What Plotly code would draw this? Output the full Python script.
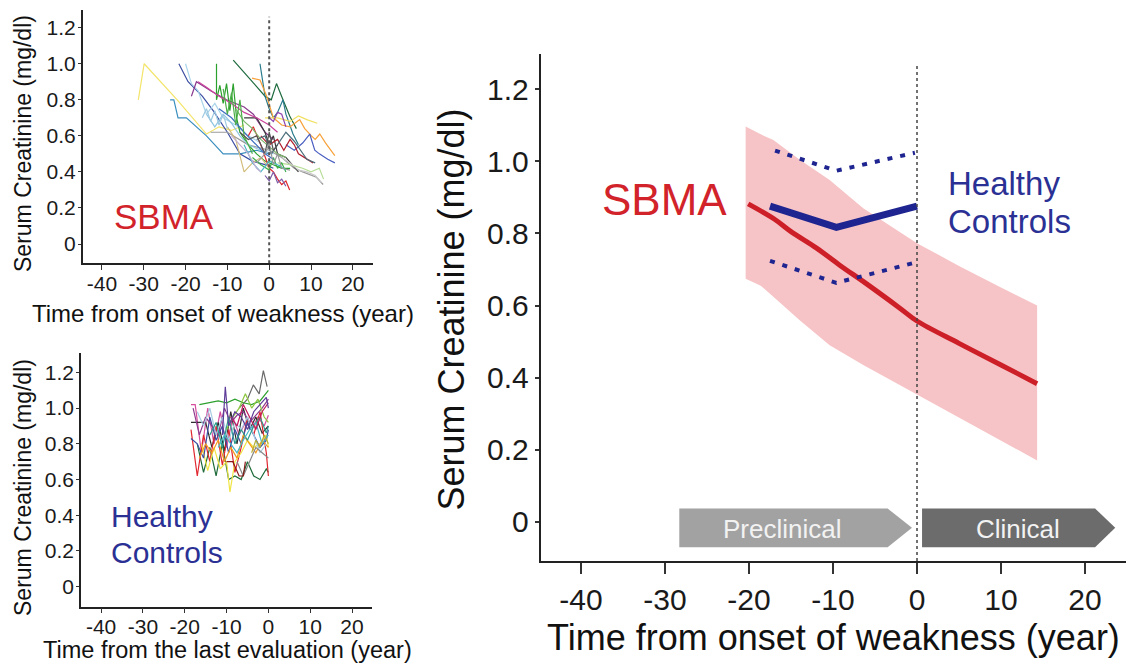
import plotly.graph_objects as go

FONT = "Arial, 'Liberation Sans', Helvetica, sans-serif"
RED = "#cd1f28"
PINK = "#f6c4c6"
NAVY = "#1f2590"
TXT_BLUE = "#2b3194"

# ---------------- main panel data ----------------
SBMA_X = [-20.1, -17.0, -15.0, -12.0, -9.2, -6.0, -2.0, 0.0, 5.0, 10.0, 14.3]
SBMA_MEAN = [0.882, 0.840, 0.805, 0.760, 0.712, 0.660, 0.592, 0.557, 0.495, 0.435, 0.383]

BAND_X = [-20.4, -18.6, -17.1, -14.0, -10.4, -6.4, 0.0, 5.0, 10.0, 14.3]
BAND_UP = [1.097, 1.075, 1.059, 1.005, 0.948, 0.870, 0.773, 0.710, 0.650, 0.600]
BAND_LO = [0.674, 0.655, 0.624, 0.560, 0.490, 0.435, 0.352, 0.288, 0.225, 0.170]

HC_X = [-17.5, -9.6, 0.0]
HC_MEAN = [0.876, 0.817, 0.876]
HC_UP_X = [-16.9, -9.6, -0.25]
HC_UP = [1.030, 0.974, 1.024]
HC_LO_X = [-17.5, -9.6, -0.25]
HC_LO = [0.724, 0.663, 0.719]

X_TICKS = [-40, -30, -20, -10, 0, 10, 20]
X_TICK_TEXT = ["-40", "-30", "-20", "-10", "0", "10", "20"]
Y_TICKS = [0, 0.2, 0.4, 0.6, 0.8, 1.0, 1.2]
Y_TICK_TEXT = ["0", "0.2", "0.4", "0.6", "0.8", "1.0", "1.2"]

# stage arrows (x start, body end, tip) and their y extent
PRE_ARROW = [-28.3, -3.5, -0.6]
CLIN_ARROW = [0.6, 21.2, 23.6]
ARROW_Y = [-0.071, 0.037]

# ---------------- individual SBMA trajectories (top-left) ----------------
SBMA_IND_X = [
    [-31.3, -29.9, -22, -15, -12, -9, -6],
    [-23.7, -22.8, -21.8, -19.8, -15, -11, -7, -3, 0],
    [-21.6, -19.4, -16, -13.4, -10, -7, -4, -1, 1],
    [-20, -18.6, -17, -15, -13, -11, -8, -5, -2],
    [-18.6, -17.4, -14, -10.2, -6, -3.8, -1, 1],
    [-12.6, -12.6, -11.8, -11, -10.2, -9.4, -8.6, -7.8, -7, -5, -3, -1, 1, 3, 5],
    [-8.6, -6, -3.8, -1, 0.5, 1.75, 3.3, 4.9, 6.5],
    [-2.2, -1.5, -1, 0, 1, 2, 3.3, 4, 5.7, 7],
    [-4.1, -2.2, -0.6, 1, 3, 5, 7.3, 8.5, 10.1, 11, 12.1, 13.5, 15.7],
    [4, 6, 8, 9.7, 10.9, 12, 14, 15.7],
    [-5, -3.8, -2, -1, 0, 1, 2, 3, 4, 4.9],
    [-14, -10, -5, 0, 3, 6, 8, 11.3, 12.9],
    [-6, -3, -1, 0, 1, 2, 4, 7],
    [2, 5, 8, 10, 12, 13],
    [-10, -8, -6, -4, -2, 0],
    [-17, -15, -12, -9, -6, -3, 0, 2],
    [-15, -13, -11, -9, -7, -5, -2, 1],
    [-2, 0, 2, 3.5, 5, 6, 7, 8.5, 10.5],
    [-1, 2, 5, 7, 9, 11.5],
    [-8, -6, -4, -2, 0, 2, 4],
    [-3, -1, 0.5, 2, 4, 6, 9, 11],
    [3, 5, 7, 9, 11, 12.5],
    [-4, -2, 0, 1, 2, 3, 4],
    [-1, 0, 1, 2, 3, 4],
    [-12, -9, -6, -3, -1, 1],
    [-6, -4, -2, 0, 2, 4],
    [-16, -15, -14, -13, -12, -11, -10],
    [-11, -10, -9, -8, -7, -6, -5, -4],
    [-7, -5, -3, -1, 0, 1, 2],
    [-3, -1, 0, 1, 2, 3, 5],
    [0, 1, 2, 3, 4],
    [-9, -7, -5, -3, -2],
]
SBMA_IND_Y = [
    [0.80, 1.00, 0.80, 0.61, 0.65, 0.63, 0.66],
    [0.80, 0.80, 0.70, 0.70, 0.60, 0.50, 0.50, 0.52, 0.50],
    [1.00, 0.90, 0.82, 0.74, 0.62, 0.50, 0.46, 0.44, 0.42],
    [1.00, 0.89, 0.85, 0.72, 0.78, 0.70, 0.66, 0.60, 0.56],
    [0.82, 0.90, 0.85, 0.80, 0.76, 0.72, 0.62, 0.58],
    [1.00, 0.80, 0.88, 0.78, 0.89, 0.74, 0.89, 0.70, 0.62, 0.55, 0.50, 0.46, 0.44, 0.42, 0.42],
    [1.02, 0.95, 0.89, 0.82, 0.80, 0.89, 0.80, 0.71, 0.64],
    [1.00, 0.88, 0.82, 0.75, 0.70, 0.73, 0.80, 0.72, 0.61, 0.55],
    [0.92, 0.91, 0.82, 0.70, 0.66, 0.65, 0.69, 0.64, 0.60, 0.58, 0.61, 0.56, 0.49],
    [0.55, 0.52, 0.56, 0.61, 0.52, 0.50, 0.47, 0.45],
    [0.60, 0.65, 0.55, 0.48, 0.42, 0.40, 0.36, 0.33, 0.35, 0.30],
    [0.62, 0.62, 0.55, 0.52, 0.48, 0.42, 0.40, 0.37, 0.33],
    [0.70, 0.70, 0.62, 0.55, 0.60, 0.50, 0.48, 0.40],
    [0.45, 0.44, 0.42, 0.40, 0.42, 0.36],
    [0.65, 0.58, 0.40, 0.45, 0.48, 0.42],
    [0.90, 0.87, 0.82, 0.78, 0.73, 0.70, 0.66, 0.62],
    [0.72, 0.65, 0.72, 0.67, 0.60, 0.55, 0.52, 0.50],
    [0.60, 0.55, 0.58, 0.52, 0.58, 0.55, 0.50, 0.48, 0.45],
    [0.70, 0.70, 0.68, 0.71, 0.69, 0.67],
    [0.75, 0.68, 0.64, 0.58, 0.54, 0.50, 0.48],
    [0.58, 0.60, 0.50, 0.55, 0.62, 0.57, 0.47, 0.45],
    [0.48, 0.45, 0.41, 0.40, 0.38, 0.34],
    [0.48, 0.44, 0.41, 0.48, 0.42, 0.45, 0.40],
    [0.38, 0.35, 0.40, 0.34, 0.36, 0.32],
    [0.75, 0.70, 0.62, 0.55, 0.50, 0.47],
    [0.55, 0.45, 0.40, 0.46, 0.44, 0.41],
    [0.70, 0.75, 0.68, 0.74, 0.66, 0.72, 0.64],
    [0.86, 0.72, 0.84, 0.66, 0.80, 0.60, 0.55, 0.50],
    [0.62, 0.58, 0.60, 0.50, 0.62, 0.52, 0.55],
    [0.45, 0.50, 0.56, 0.44, 0.50, 0.42, 0.41],
    [0.70, 0.68, 0.73, 0.72, 0.65],
    [0.60, 0.55, 0.50, 0.42, 0.40],
]
SBMA_IND_COLORS = [
    "#f3e46a", "#3b8fbf", "#3c4ea3", "#a9d4ea", "#8b3a8f", "#2ca02c",
    "#1f6b3f", "#2a7b8c", "#f7a13a", "#4a5fc1", "#e0262e", "#9a9a9a",
    "#3a3a3a", "#b7dd96", "#d2bd7a", "#c9439a", "#8fc5e0", "#b22030",
    "#f0e060", "#7bb86a", "#4c6e7a", "#c8c8c8", "#3fae49", "#7b5ca8",
    "#3f6fc0", "#4fb6c6", "#9ecae1", "#4daf4a", "#555555", "#999999",
    "#8e44ad", "#c5b0d5",
]

# ---------------- individual control trajectories (bottom-left) ----------------
HC_IND_X = [
    [-18.5, -17.5, -16, -14.5, -13, -11.5, -10, -8.5, -7, -5.5, -4, -2.5, -1, 0],
    [-18.5, -15, -13.5, -12, -10.5, -9, -7.5, -6, -4.5, -3, -1.5, 0],
    [-7, -5, -3.6, -2.2, -1.2, -0.3],
    [-16.5, -14, -12, -10, -8, -6, -4, -2, 0],
    [-17, -15.5, -14, -12.5, -11, -9.5, -8, -6.5, -5, -3.5, -2, -0.5, 0],
    [-18.5, -17, -15.5, -14, -12.5, -11, -9.5, -8, -6.5, -5, -3.5, -2, -0.5, 0],
    [-16, -14.5, -13, -11.5, -10, -9.2, -8, -6.5, -5, -3.5, -2, -0.5, 0],
    [-18.5, -17, -15.5, -14, -12.5, -11, -9.5, -8, -6.5, -5, -3.5, -2, -0.5, 0],
    [-18, -16.5, -15, -13.5, -12, -10.5, -9, -7.5, -6, -4.5, -3, -1.5, 0],
    [-16.5, -15, -13.5, -12, -10.5, -9, -7.5, -6, -4.5, -3, -1.5, 0],
    [-17, -15.5, -14, -12.5, -11, -9.5, -8, -6.5, -5, -3.5, -2, -0.5],
    [-14, -12.5, -11, -9.5, -8, -6.5, -5, -3.5, -2, -0.5, 0],
    [-12, -10.5, -9, -7.5, -6, -4.5, -3, -1.5, 0],
    [-10, -8.5, -7, -5.5, -4, -2.5, -1, 0],
    [-9, -7.5, -6, -4.5, -3, -1.5, 0],
    [-11, -10.3, -9.5, -8, -6.5, -5, -3.5, -2, -0.5, 0],
    [-7.5, -6, -4.5, -3, -1.5, 0],
    [-4, -3, -2, -1, 0],
    [-10, -8.5, -7, -6, -5.5],
]
HC_IND_Y = [
    [1.02, 1.02, 0.75, 1.00, 0.80, 0.98, 0.78, 0.95, 0.85, 0.92, 0.88, 0.95, 0.90, 0.96],
    [0.92, 0.92, 0.78, 0.92, 0.76, 0.98, 0.80, 1.00, 0.88, 0.95, 0.86, 0.90],
    [1.00, 1.05, 1.13, 1.08, 1.21, 1.12],
    [1.02, 1.03, 1.04, 1.03, 1.05, 1.03, 1.02, 1.04, 1.10],
    [0.80, 0.64, 0.78, 0.62, 0.80, 0.60, 0.62, 0.60, 0.70, 0.62, 0.60, 0.66, 0.64],
    [0.88, 0.62, 0.85, 0.70, 0.90, 0.68, 0.88, 0.64, 0.78, 0.95, 0.85, 0.98, 0.75, 0.62],
    [0.80, 0.65, 0.78, 0.66, 0.70, 0.53, 0.70, 0.75, 0.82, 0.78, 0.80, 0.85, 0.78],
    [0.83, 0.80, 0.72, 0.95, 0.82, 0.90, 0.75, 0.88, 0.80, 0.92, 0.85, 0.78, 0.82, 0.88],
    [1.00, 0.85, 0.95, 0.90, 0.85, 1.00, 0.92, 0.96, 0.98, 0.92, 0.96, 1.00, 1.05],
    [0.72, 0.80, 0.75, 0.82, 0.70, 0.78, 0.72, 0.85, 0.80, 0.75, 0.82, 0.78],
    [0.98, 0.90, 1.00, 0.85, 0.95, 0.82, 0.92, 0.88, 0.95, 0.85, 0.75, 0.80],
    [0.85, 0.92, 0.78, 0.95, 0.80, 0.88, 0.82, 0.90, 0.95, 0.86, 0.90],
    [0.78, 0.85, 0.80, 0.75, 0.82, 0.88, 0.92, 0.80, 0.85],
    [0.88, 0.95, 1.00, 1.08, 1.00, 1.05, 0.95, 0.92],
    [0.95, 0.90, 1.02, 0.95, 0.88, 0.98, 1.03],
    [0.85, 1.12, 0.90, 0.98, 0.95, 0.88, 0.98, 1.02, 1.06, 1.00],
    [0.70, 0.62, 0.70, 0.78, 0.75, 0.72],
    [0.75, 0.82, 0.78, 0.85, 0.80],
    [0.70, 0.70, 0.62, 0.62, 0.70],
]
HC_IND_COLORS = [
    "#d54d9c", "#2f2f2f", "#6a6a6a", "#2ca02c", "#1e6b3a", "#e0262e",
    "#f0e442", "#3c4ea3", "#8e3c8e", "#f39c1f", "#a6cee3", "#2a9d8f",
    "#45b7c8", "#8cc63f", "#c2185b", "#5e3c99", "#888888", "#b5b03b",
    "#8b1a1a",
]

# page geometry: the html body adds an 8 px margin around the figure
OFF = 8
W, H = 1134 - OFF, 666 - OFF


def px_x(p):
    return (p - OFF) / W


def px_y(p):
    return 1 - (p - OFF) / H


fig = go.Figure()

for xs, ys, c in zip(SBMA_IND_X, SBMA_IND_Y, SBMA_IND_COLORS):
    fig.add_trace(go.Scatter(x=xs, y=ys, mode="lines", line=dict(color=c, width=1.2),
                             xaxis="x", yaxis="y", showlegend=False, hoverinfo="skip"))
for xs, ys, c in zip(HC_IND_X, HC_IND_Y, HC_IND_COLORS):
    fig.add_trace(go.Scatter(x=xs, y=ys, mode="lines", line=dict(color=c, width=1.2),
                             xaxis="x2", yaxis="y2", showlegend=False, hoverinfo="skip"))

fig.add_trace(go.Scatter(x=BAND_X + BAND_X[::-1], y=BAND_UP + BAND_LO[::-1],
                         fill="toself", fillcolor=PINK, line=dict(width=0),
                         mode="lines", xaxis="x3", yaxis="y3", showlegend=False,
                         hoverinfo="skip"))
fig.add_trace(go.Scatter(x=SBMA_X, y=SBMA_MEAN, mode="lines",
                         line=dict(color=RED, width=5, shape="spline"),
                         xaxis="x3", yaxis="y3", showlegend=False))
fig.add_trace(go.Scatter(x=HC_UP_X, y=HC_UP, mode="lines",
                         line=dict(color=NAVY, width=4, dash="5px,8px"),
                         xaxis="x3", yaxis="y3", showlegend=False))
fig.add_trace(go.Scatter(x=HC_LO_X, y=HC_LO, mode="lines",
                         line=dict(color=NAVY, width=4, dash="5px,8px"),
                         xaxis="x3", yaxis="y3", showlegend=False))
fig.add_trace(go.Scatter(x=HC_X, y=HC_MEAN, mode="lines",
                         line=dict(color=NAVY, width=7),
                         xaxis="x3", yaxis="y3", showlegend=False))


def xax(domain, rng, fs, tl, lw, standoff, anchor):
    return dict(domain=domain, range=rng, tickvals=X_TICKS, ticktext=X_TICK_TEXT,
                ticks="outside", ticklen=tl, tickwidth=lw * 0.8, tickcolor="#333",
                showline=True, linecolor="#222", linewidth=lw, showgrid=False,
                zeroline=False, tickfont=dict(family=FONT, size=fs, color="#1a1a1a"),
                ticklabelstandoff=standoff, anchor=anchor, automargin=False,
                fixedrange=True)


def yax(domain, rng, fs, tl, lw, standoff, anchor):
    return dict(domain=domain, range=rng, tickvals=Y_TICKS, ticktext=Y_TICK_TEXT,
                ticks="outside", ticklen=tl, tickwidth=lw * 0.8, tickcolor="#333",
                showline=True, linecolor="#222", linewidth=lw, showgrid=False,
                zeroline=False, tickfont=dict(family=FONT, size=fs, color="#1a1a1a"),
                ticklabelstandoff=standoff, anchor=anchor, automargin=False,
                fixedrange=True)


fig.update_layout(
    width=W, height=H, margin=dict(l=0, r=0, t=0, b=0, autoexpand=False),
    paper_bgcolor="white", plot_bgcolor="white", showlegend=False,
    xaxis=xax([px_x(82.7), px_x(373.3)], [-44.6, 24.9], 21, 5, 1.5, -4, "y"),
    yaxis=yax([px_y(263.3), px_y(10)], [-0.107, 1.298], 21, 3, 1.5, -2, "x"),
    xaxis2=xax([px_x(81), px_x(371.7)], [-44.8, 24.7], 21, 5, 1.5, -5, "y2"),
    yaxis2=yax([px_y(606.7), px_y(353.3)], [-0.112, 1.307], 21, 3, 1.5, -2, "x2"),
    xaxis3=xax([px_x(540.7), px_x(1127)], [-44.8, 25.0], 30, 11, 2, 0, "y3"),
    yaxis3=yax([px_y(561), px_y(54)], [-0.109, 1.298], 30, 4, 2, 0, "x3"),
)

shapes = [
    dict(type="line", xref="x", yref="y", x0=0, x1=0, y0=-0.107, y1=1.26,
         line=dict(color="#555", width=2, dash="dot")),
    dict(type="line", xref="x3", yref="y3", x0=0, x1=0, y0=-0.109, y1=1.268,
         line=dict(color="#444", width=1.5, dash="dot")),
]
ymid = (ARROW_Y[0] + ARROW_Y[1]) / 2
for (x0, xb, xt), col in [(PRE_ARROW, "#a2a2a2"), (CLIN_ARROW, "#6c6c6c")]:
    path = (f"M {x0},{ARROW_Y[0]} L {xb},{ARROW_Y[0]} L {xt},{ymid} "
            f"L {xb},{ARROW_Y[1]} L {x0},{ARROW_Y[1]} Z")
    shapes.append(dict(type="path", xref="x3", yref="y3", path=path,
                       fillcolor=col, line=dict(width=0), layer="below"))
fig.update_layout(shapes=shapes)

ann = [
    dict(text="Time from onset of weakness (year)", xref="paper", yref="paper",
         x=px_x(833), y=px_y(637), font=dict(size=36, family=FONT, color="#111")),
    dict(text="Serum Creatinine (mg/dl)", xref="paper", yref="paper",
         x=px_x(452), y=px_y(309.6), textangle=-90,
         font=dict(size=36, family=FONT, color="#111")),
    dict(text="Time from onset of weakness (year)", xref="paper", yref="paper",
         x=px_x(222.5), y=px_y(313), font=dict(size=24, family=FONT, color="#111")),
    dict(text="Serum Creatinine (mg/dl)", xref="paper", yref="paper",
         x=px_x(23), y=px_y(144), textangle=-90,
         font=dict(size=23, family=FONT, color="#111")),
    dict(text="Time from the last evaluation (year)", xref="paper", yref="paper",
         x=px_x(227), y=px_y(650), font=dict(size=23.5, family=FONT, color="#111")),
    dict(text="Serum Creatinine (mg/dl)", xref="paper", yref="paper",
         x=px_x(23), y=px_y(488), textangle=-90,
         font=dict(size=23, family=FONT, color="#111")),
    dict(text="SBMA", xref="x3", yref="y3", x=-30.1, y=0.894,
         font=dict(size=44, family=FONT, color="#d2232a")),
    dict(text="Healthy", xref="x3", yref="y3", x=3.48, y=0.938, xanchor="left",
         font=dict(size=33, family=FONT, color=TXT_BLUE)),
    dict(text="Controls", xref="x3", yref="y3", x=3.48, y=0.833, xanchor="left",
         font=dict(size=33, family=FONT, color=TXT_BLUE)),
    dict(text="SBMA", xref="x", yref="y", x=-25.2, y=0.155,
         font=dict(size=35, family=FONT, color="#d2232a")),
    dict(text="Healthy", xref="x2", yref="y2", x=-38.1, y=0.392, xanchor="left",
         font=dict(size=30, family=FONT, color=TXT_BLUE)),
    dict(text="Controls", xref="x2", yref="y2", x=-38.1, y=0.193, xanchor="left",
         font=dict(size=30, family=FONT, color=TXT_BLUE)),
    dict(text="Preclinical", xref="x3", yref="y3", x=-16.0, y=-0.02,
         font=dict(size=26, family=FONT, color="#f2f2f2")),
    dict(text="Clinical", xref="x3", yref="y3", x=12.0, y=-0.02,
         font=dict(size=26, family=FONT, color="#f2f2f2")),
]
for a in ann:
    a.setdefault("showarrow", False)
    a.setdefault("xanchor", "center")
    a.setdefault("yanchor", "middle")
fig.update_layout(annotations=ann)

fig.write_html("out.html")
